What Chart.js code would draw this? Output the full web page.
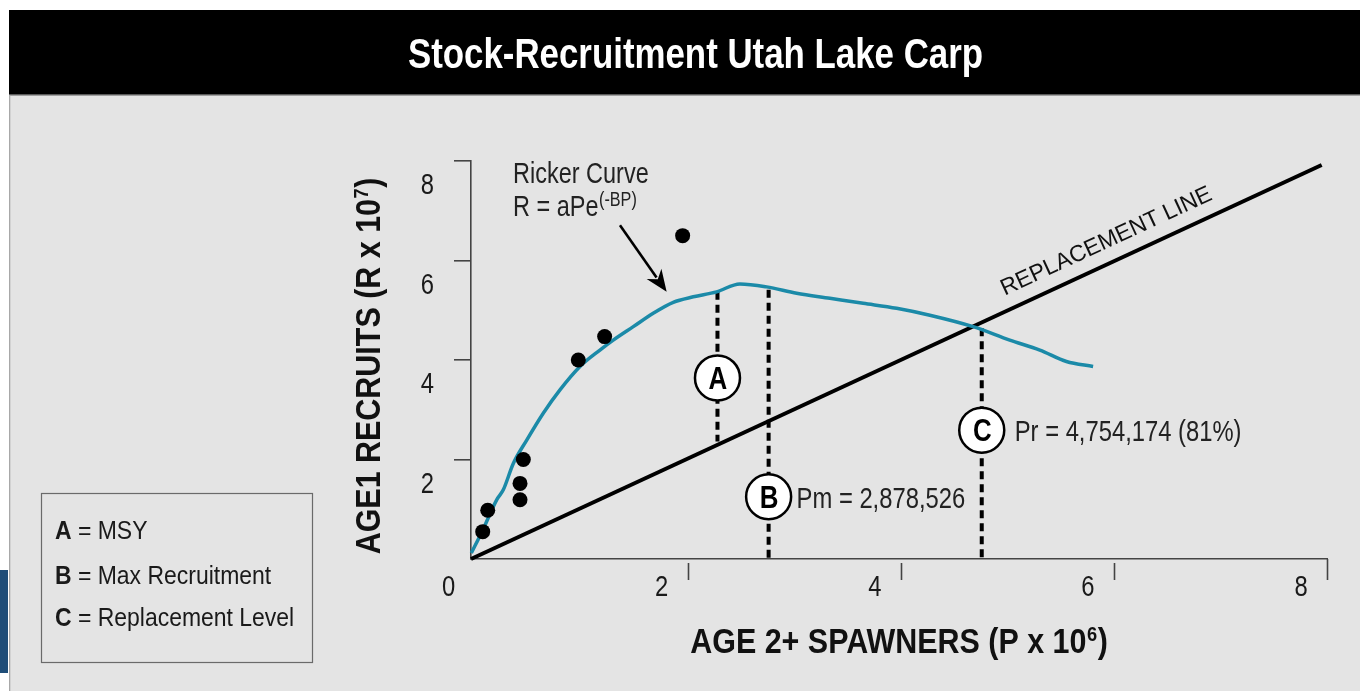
<!DOCTYPE html>
<html><head><meta charset="utf-8">
<script src="https://cdn.jsdelivr.net/npm/chart.js@4.4.1/dist/chart.umd.min.js"></script>
<style>html,body{margin:0;padding:0;background:#fff;overflow:hidden}canvas{display:block}</style>
</head><body>
<canvas id="c" width="1360" height="691"></canvas>
<script>
const FONT = '"Liberation Sans", Arial, Helvetica, sans-serif';

const titleText = 'Stock-Recruitment Utah Lake Carp';
const xTitleMain = 'AGE 2+ SPAWNERS (P x 10', xTitleSup = '6';
const yTitleMain = 'AGE1 RECRUITS (R x 10', yTitleSup = '7';
const xTicks = [0, 2, 4, 6, 8];
const yTicks = [0, 2, 4, 6, 8];

// Ricker curve (P x 10^6, R x 10^7)
const curveX = [-0.03, 0.077, 0.208, 0.27, 0.364, 0.49, 0.645, 0.802, 0.99, 1.177, 1.302, 1.49, 1.677, 1.865, 2.053, 2.272, 2.49, 2.741, 3.023, 3.335, 3.647, 3.961, 4.273, 4.679, 5.023, 5.305, 5.555, 5.805];
const curveY = [0.12, 0.58, 1.19, 1.39, 1.92, 2.39, 2.93, 3.40, 3.87, 4.20, 4.40, 4.67, 4.94, 5.16, 5.27, 5.37, 5.53, 5.47, 5.34, 5.24, 5.14, 5.04, 4.90, 4.67, 4.40, 4.20, 3.97, 3.87];

// observed stock-recruit points
const obsX = [0.077, 0.124, 0.427, 0.427, 0.458, 0.974, 1.221, 1.953];
const obsY = [0.55, 0.98, 1.19, 1.52, 2.00, 4.00, 4.47, 6.50];

// replacement line
const replX = [-0.033, 7.95];
const replY = [0, 7.92];
const replLabel = 'REPLACEMENT LINE';
const replLabelX = 5.93, replLabelY = 6.38;

// reference levels
const markerNames = ['A', 'B', 'C'];
const markerX = [2.28, 2.76, 4.76];
const markerY = [3.64, 1.25, 2.59];
const dropTop = [5.37, 5.41, 4.64];
const dropBottom = [2.36, 0, 0];
const markerNotes = ['', 'Pm = 2,878,526', 'Pr = 4,754,174 (81%)'];

// Ricker annotation
const rickerLine1 = 'Ricker Curve';
const rickerLine2 = 'R = aPe', rickerSup = '(-BP)';
const rickerX = 0.361, rickerY1 = 7.56, rickerY2 = 6.90;
const arrowFrom = [1.365, 6.71], arrowTo = [1.803, 5.37];

const legendItems = [['A', ' = MSY'], ['B', ' = Max Recruitment'], ['C', ' = Replacement Level']];

const TEAL = '#1b8aa8';

const toXY = (xs, ys) => xs.map((x, i) => ({x: x, y: ys[i]}));

const datasets = [];
datasets.push({label: 'Ricker', data: toXY(curveX, curveY), showLine: true, borderColor: TEAL, borderWidth: 3.5, pointRadius: 0, cubicInterpolationMode: 'monotone', order: 3, clip: false});
datasets.push({label: 'Replacement', data: toXY(replX, replY), showLine: true, borderColor: '#000', borderWidth: 4, pointRadius: 0, order: 4, clip: false});
markerNames.forEach((n, i) => {
  datasets.push({label: 'drop' + n, data: [{x: markerX[i], y: dropTop[i]}, {x: markerX[i], y: dropBottom[i]}], showLine: true, borderColor: '#000', borderWidth: 4, borderDash: [8, 5], pointRadius: 0, order: 5, clip: false});
});
datasets.push({label: 'Observed', data: toXY(obsX, obsY), pointRadius: 7.5, pointBackgroundColor: '#000', pointBorderColor: '#000', pointBorderWidth: 0, order: 1, clip: false});
datasets.push({label: 'Markers', data: toXY(markerX, markerY), pointRadius: 22.5, pointBackgroundColor: '#fff', pointBorderColor: '#000', pointBorderWidth: 2.5, order: 0, clip: false});

// narrow text: Liberation Sans squeezed horizontally (Helvetica Condensed look)
function nText(c, str, x, y, size, bold, align, sx) {
  c.save();
  c.font = (bold ? 'bold ' : '') + size + 'px ' + FONT;
  const w = c.measureText(str).width * sx;
  let left = x;
  if (align === 'center') left = x - w / 2; else if (align === 'right') left = x - w;
  c.translate(left, y); c.scale(sx, 1); c.textAlign = 'left';
  c.fillText(str, 0, 0);
  c.restore();
  return w;
}
function nWidth(c, str, size, bold, sx) {
  c.save(); c.font = (bold ? 'bold ' : '') + size + 'px ' + FONT; const w = c.measureText(str).width * sx; c.restore(); return w;
}
function supText(c, main, sup, end, x, y, size, supSize, bold, sx, raise, align) {
  const w1 = nWidth(c, main, size, bold, sx), w2 = nWidth(c, sup, supSize, bold, sx), w3 = nWidth(c, end, size, bold, sx);
  const total = w1 + w2 + w3 + 1;
  const left = align === 'center' ? x - total / 2 : x;
  nText(c, main, left, y, size, bold, 'left', sx);
  nText(c, sup, left + w1 + 0.5, y - raise, supSize, bold, 'left', sx);
  if (end) nText(c, end, left + w1 + w2 + 1, y, size, bold, 'left', sx);
}

const bgPlugin = {
  id: 'bg',
  beforeDraw(chart) {
    const c = chart.ctx; c.save();
    c.fillStyle = '#ffffff'; c.fillRect(0, 0, 1360, 691);
    c.fillStyle = '#e4e4e4'; c.fillRect(10, 94, 1350, 597);
    c.fillStyle = '#000'; c.fillRect(9, 10, 1351, 84);
    c.fillStyle = '#5a5a5a'; c.fillRect(9, 94, 1351, 1.5);
    c.fillStyle = '#a8a8a8'; c.fillRect(9, 95, 1.3, 596);
    c.fillStyle = '#1f4d78'; c.fillRect(0, 570, 8, 103);
    c.textBaseline = 'alphabetic';
    // title
    c.fillStyle = '#fff';
    nText(c, titleText, 695.5, 68, 42.5, true, 'center', 0.82);
    // legend box
    c.strokeStyle = '#6a6a6a'; c.lineWidth = 1.2; c.strokeRect(41.5, 493.5, 271, 169);
    c.fillStyle = '#1a1a1a';
    const base = [539, 584, 626];
    legendItems.forEach((it, i) => {
      const w = nText(c, it[0], 55, base[i], 25.5, true, 'left', 0.9);
      nText(c, it[1], 55 + w, base[i], 25.5, false, 'left', 0.9);
    });
    // axis titles
    const a = chart.chartArea;
    c.fillStyle = '#111';
    supText(c, xTitleMain, xTitleSup, ')', (a.left + a.right) / 2, 653, 35, 21, true, 0.87, 12, 'center');
    c.save(); c.translate(380, 366); c.rotate(-Math.PI / 2);
    supText(c, yTitleMain, yTitleSup, ')', 0, 0, 35, 21, true, 0.87, 12, 'center');
    c.restore();
    c.restore();
  }
};

const annPlugin = {
  id: 'ann',
  afterDatasetsDraw(chart) {
    const c = chart.ctx, xs = chart.scales.x, ys = chart.scales.y, a = chart.chartArea;
    c.save();
    // x tick marks
    c.strokeStyle = '#444'; c.lineWidth = 1.6;
    xTicks.forEach(v => {
      if (v === 0) return;
      const px = Math.round(xs.getPixelForValue(v)) + 0.5;
      c.beginPath(); c.moveTo(px, v === xTicks[xTicks.length - 1] ? a.bottom : a.bottom + 4); c.lineTo(px, a.bottom + 21); c.stroke();
    });
    // tick labels (offset from their tick marks, as in the original)
    c.fillStyle = '#1a1a1a'; c.textBaseline = 'alphabetic';
    xs.ticks.forEach(t => {
      nText(c, String(t.value), xs.getPixelForValue(t.value) - 26, a.bottom + 37, 29, false, 'center', 0.82);
    });
    ys.ticks.forEach(t => {
      if (t.value === 0) return;
      nText(c, String(t.value), 434, ys.getPixelForValue(t.value) + 33, 29, false, 'right', 0.82);
    });
    // marker letters and notes
    markerNames.forEach((n, i) => {
      const px = xs.getPixelForValue(markerX[i]), py = ys.getPixelForValue(markerY[i]);
      c.fillStyle = '#000';
      nText(c, n, px + 0.5, py + 11, 30.5, true, 'center', 0.85);
      if (markerNotes[i]) {
        c.fillStyle = '#222';
        nText(c, markerNotes[i], px + (i === 2 ? 33 : 28), py + 11, 29, false, 'left', 0.82);
      }
    });
    // Ricker annotation
    c.fillStyle = '#222';
    const rx = xs.getPixelForValue(rickerX);
    nText(c, rickerLine1, rx, ys.getPixelForValue(rickerY1), 29, false, 'left', 0.81);
    supText(c, rickerLine2, rickerSup, '', rx, ys.getPixelForValue(rickerY2), 29, 20, false, 0.81, 10, 'left');
    // arrow
    const x0 = xs.getPixelForValue(arrowFrom[0]), y0 = ys.getPixelForValue(arrowFrom[1]);
    const x1 = xs.getPixelForValue(arrowTo[0]), y1 = ys.getPixelForValue(arrowTo[1]);
    const ang = Math.atan2(y1 - y0, x1 - x0), hl = 22, hw = 9;
    c.strokeStyle = '#000'; c.lineWidth = 2.6;
    c.beginPath(); c.moveTo(x0, y0); c.lineTo(x1 - hl * 0.8 * Math.cos(ang), y1 - hl * 0.8 * Math.sin(ang)); c.stroke();
    c.fillStyle = '#000'; c.beginPath();
    c.moveTo(x1, y1);
    c.lineTo(x1 - hl * Math.cos(ang) - hw * Math.sin(ang), y1 - hl * Math.sin(ang) + hw * Math.cos(ang));
    c.lineTo(x1 - hl * 0.7 * Math.cos(ang), y1 - hl * 0.7 * Math.sin(ang));
    c.lineTo(x1 - hl * Math.cos(ang) + hw * Math.sin(ang), y1 - hl * Math.sin(ang) - hw * Math.cos(ang));
    c.closePath(); c.fill();
    // replacement line label
    const lx0 = xs.getPixelForValue(replX[0]), ly0 = ys.getPixelForValue(replY[0]);
    const lx1 = xs.getPixelForValue(replX[1]), ly1 = ys.getPixelForValue(replY[1]);
    const la = Math.atan2(ly1 - ly0, lx1 - lx0);
    c.save();
    c.translate(xs.getPixelForValue(replLabelX), ys.getPixelForValue(replLabelY)); c.rotate(la);
    c.font = '23px ' + FONT; c.fillStyle = '#111'; c.textAlign = 'center'; c.textBaseline = 'middle';
    c.fillText(replLabel, 0, 0);
    c.restore();
    c.restore();
  }
};

new Chart(document.getElementById('c'), {
  type: 'scatter',
  data: {datasets: datasets},
  options: {
    responsive: false, animation: false, devicePixelRatio: 1,
    layout: {padding: {left: 0, top: 161, right: 33, bottom: 0}},
    plugins: {legend: {display: false}, tooltip: {enabled: false}, title: {display: false}},
    scales: {
      x: {
        type: 'linear', min: -0.033, max: 8,
        afterBuildTicks: s => { s.ticks = xTicks.map(v => ({value: v})); },
        afterFit: s => { s.height = 132; },
        grid: {display: false, drawTicks: false},
        border: {display: true, color: '#444', width: 1.6},
        ticks: {display: false}
      },
      y: {
        type: 'linear', min: 0, max: 8,
        afterBuildTicks: s => { s.ticks = yTicks.map(v => ({value: v})); },
        afterFit: s => { s.width = 471; },
        grid: {display: true, drawOnChartArea: false, drawTicks: true, tickLength: 17, lineWidth: 1.6,
          color: ctx => (ctx.tick && ctx.tick.value === 0) ? 'rgba(0,0,0,0)' : '#444'},
        border: {display: true, color: '#444', width: 1.6},
        ticks: {display: false}
      }
    }
  },
  plugins: [bgPlugin, annPlugin]
});
</script>
</body></html>
